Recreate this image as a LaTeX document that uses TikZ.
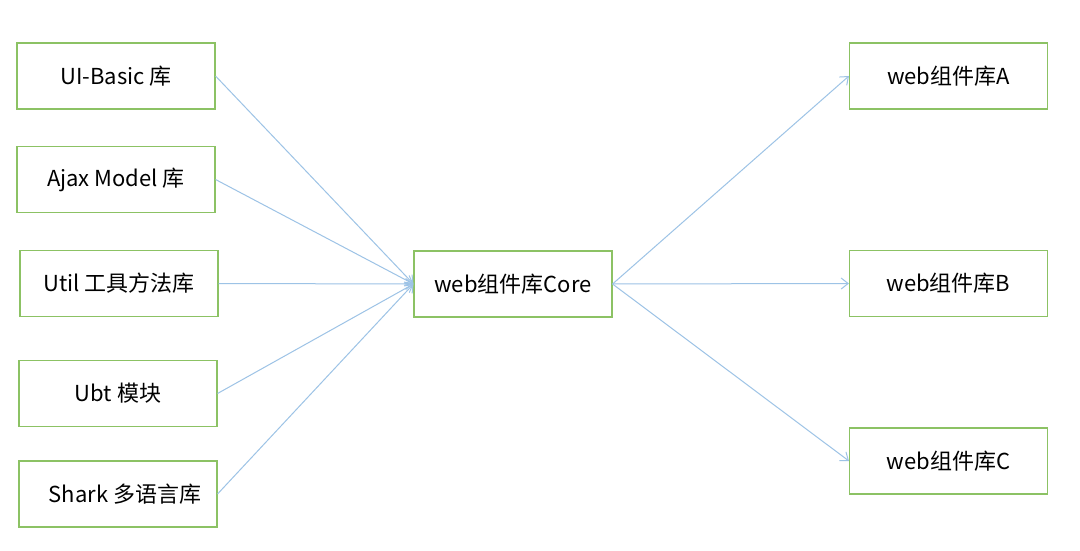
\documentclass[tikz,border=0pt]{standalone}
\usepackage{fontspec}
\setmainfont{Noto Sans CJK SC}
\usetikzlibrary{arrows.meta}
\definecolor{boxgreen}{RGB}{140,194,100}
\definecolor{arrowblue}{RGB}{157,195,230}
\begin{document}
\begin{tikzpicture}[x=1pt,y=-1pt,
  box/.style={draw=boxgreen, line width=1.1pt, minimum width=198pt, minimum height=66pt, inner sep=0pt, font=\fontsize{22}{24}\selectfont, text=black},
  conn/.style={draw=arrowblue, line width=1pt, -{Straight Barb[length=7pt,width=11pt]}}]
\useasboundingbox[fill=white] (0,0) rectangle (1080,551);
\node[box] (ui) at (116,76) {UI-Basic 库};
\node[box] (ajax) at (116,179.5) {Ajax Model 库};
\node[box] (util) at (119,283.5) {Util 工具方法库};
\node[box] (ubt) at (118,393.5) {Ubt 模块};
\node[box] (shark) at (118,494) {\hspace*{14pt}Shark 多语言库};
\node[box] (core) at (513,284) {web组件库Core};
\node[box] (a) at (948.5,76) {web组件库A};
\node[box] (b) at (948.5,283.5) {web组件库B};
\node[box] (c) at (948.5,461) {web组件库C};
\foreach \s in {ui,ajax,util,ubt,shark}
  \draw[conn] (\s.east) -- (core.west);
\foreach \t in {a,b,c}
  \draw[conn] (core.east) -- (\t.west);
\end{tikzpicture}
\end{document}
